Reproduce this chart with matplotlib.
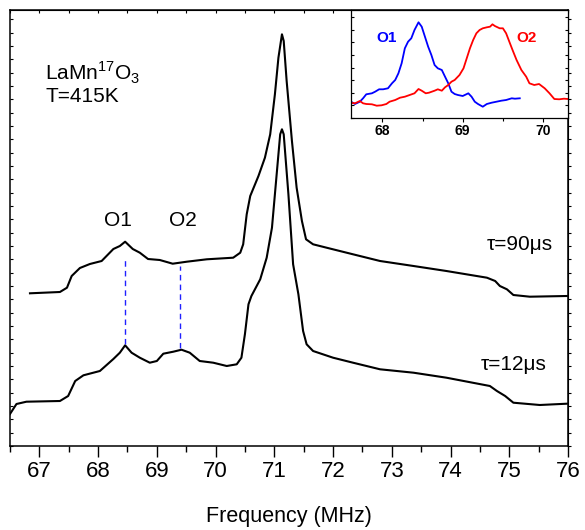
import numpy as np
import matplotlib
matplotlib.use("Agg")
import matplotlib.pyplot as plt
from matplotlib.ticker import MultipleLocator, NullFormatter

plt.rcParams['font.family'] = ['Liberation Sans', 'DejaVu Sans']
plt.rcParams['mathtext.fontset'] = 'custom'
plt.rcParams['mathtext.rm'] = 'Liberation Sans'

# upper spectrum, tau = 90 us (frequency in MHz, intensity in arb. units)
freq_90 = [66.84, 67.35, 67.47, 67.55, 67.69, 67.86, 68.06, 68.26, 68.37, 68.46,
           68.59, 68.71, 68.85, 69.05, 69.27, 69.51, 69.85, 70.30, 70.42, 70.47,
           70.53, 70.59, 70.73, 70.84, 70.93, 71.01, 71.07, 71.13, 71.16, 71.21,
           71.30, 71.38, 71.47, 71.54, 71.66, 71.89, 72.34, 72.80, 73.37, 73.93,
           74.62, 74.76, 74.84, 74.96, 75.07, 75.35, 75.98]
int_90 = [152.7, 154.0, 158.3, 170.0, 178.0, 182.0, 185.0, 197.0, 200.0, 204.3,
          197.0, 193.3, 187.0, 186.0, 182.3, 184.3, 186.7, 188.3, 193.3, 201.7,
          231.7, 250.0, 270.0, 288.3, 311.7, 351.7, 388.3, 411.7, 405.0, 365.0,
          305.0, 258.3, 225.0, 206.7, 201.7, 198.3, 191.7, 185.0, 180.0, 175.0,
          168.3, 165.0, 160.0, 156.7, 151.0, 149.3, 150.0]

# lower spectrum, tau = 12 us
freq_12 = [66.50, 66.61, 66.78, 67.35, 67.49, 67.61, 67.75, 68.03, 68.26, 68.37,
           68.46, 68.57, 68.71, 68.88, 69.00, 69.11, 69.28, 69.42, 69.56, 69.73,
           69.96, 70.19, 70.36, 70.44, 70.50, 70.56, 70.61, 70.76, 70.87, 70.96,
           71.04, 71.10, 71.13, 71.16, 71.24, 71.32, 71.41, 71.49, 71.55, 71.66,
           72.00, 72.34, 72.80, 73.37, 73.93, 74.67, 74.79, 74.93, 75.07, 75.52,
           75.98]
int_12 = [32.0, 42.0, 44.3, 45.0, 50.0, 65.0, 70.7, 75.0, 87.0, 93.3,
          100.7, 93.3, 88.3, 83.3, 85.0, 92.3, 94.3, 96.3, 93.3, 85.0,
          83.3, 80.0, 81.7, 88.3, 112.0, 141.7, 150.0, 166.7, 188.3, 218.3,
          271.7, 311.7, 316.7, 311.7, 251.7, 181.7, 151.7, 115.0, 101.7, 95.0,
          88.3, 83.3, 76.7, 73.3, 68.3, 60.0, 55.0, 50.0, 43.3, 41.0,
          42.3]

# inset: separated O1 and O2 lines
freq_o1 = [67.61, 67.66, 67.72, 67.76, 67.80, 67.87, 67.91, 67.96, 68.01, 68.07,
           68.12, 68.16, 68.20, 68.24, 68.28, 68.32, 68.36, 68.40, 68.45, 68.49,
           68.53, 68.57, 68.61, 68.65, 68.69, 68.74, 68.78, 68.82, 68.86, 68.90,
           68.94, 69.00, 69.07, 69.11, 69.15, 69.19, 69.25, 69.30, 69.36, 69.42,
           69.48, 69.54, 69.61, 69.65, 69.71]
int_o1 = [16.3, 14.0, 16.3, 19.7, 23.7, 24.7, 26.3, 28.7, 28.7, 29.7,
          34.7, 38.0, 44.7, 54.7, 69.7, 76.3, 79.7, 88.0, 95.7, 91.3,
          81.3, 71.3, 63.0, 53.0, 49.7, 48.0, 41.3, 34.7, 26.3, 24.0,
          23.0, 22.0, 24.7, 21.3, 16.3, 14.0, 11.3, 14.0, 15.3, 16.3,
          17.3, 18.0, 19.7, 19.3, 19.7]

freq_o2 = [67.61, 67.66, 67.72, 67.76, 67.80, 67.87, 67.93, 67.99, 68.05, 68.09,
           68.16, 68.22, 68.28, 68.34, 68.40, 68.45, 68.49, 68.54, 68.58, 68.65,
           68.69, 68.74, 68.78, 68.82, 68.86, 68.90, 68.96, 69.01, 69.05, 69.09,
           69.13, 69.17, 69.21, 69.25, 69.30, 69.34, 69.37, 69.40, 69.46, 69.50,
           69.54, 69.58, 69.62, 69.67, 69.73, 69.79, 69.83, 69.89, 69.95, 70.02,
           70.08, 70.14, 70.20, 70.26, 70.31]
int_o2 = [15.3, 14.7, 17.0, 14.7, 14.0, 13.7, 12.3, 12.7, 14.0, 16.3,
          18.0, 20.3, 21.3, 23.0, 24.7, 29.0, 27.3, 24.7, 25.3, 27.3,
          28.7, 27.3, 30.7, 33.0, 36.3, 38.0, 43.0, 49.7, 59.7, 69.7,
          78.0, 84.7, 88.0, 89.7, 90.7, 91.3, 93.7, 92.0, 89.7, 89.7,
          84.7, 76.3, 68.0, 58.0, 48.0, 41.3, 34.7, 33.0, 34.0, 29.7,
          24.7, 19.0, 18.7, 19.3, 19.0]

# peak markers (frequency, top, bottom)
marker_freq = [68.46, 69.39]
marker_top = [187.0, 180.0]
marker_bottom = [102.0, 98.0]

fig = plt.figure(figsize=(5.85, 5.3), dpi=100)
ax = fig.add_axes([10/585, 84/530, 558/585, 436/530])

ax.plot(freq_90, int_90, color='black', lw=1.5, solid_joinstyle='round')
ax.plot(freq_12, int_12, color='black', lw=1.5, solid_joinstyle='round')
ax.vlines(marker_freq, marker_bottom, marker_top, colors='#2020ff',
          linestyles=(0, (4, 3)), lw=1.0)

ax.set_xlim(66.5, 76)
ax.set_ylim(0, 436)
ax.xaxis.set_major_locator(MultipleLocator(1))
ax.xaxis.set_minor_locator(MultipleLocator(0.5))
ax.yaxis.set_major_locator(MultipleLocator(13.33))
ax.yaxis.set_major_formatter(NullFormatter())
ax.tick_params(axis='x', which='major', direction='out', length=8, width=1.0,
               labelsize=16, pad=3)
ax.tick_params(axis='x', which='minor', direction='out', length=4, width=1.0)
ax.tick_params(axis='y', which='major', direction='in', length=2, width=0.8)
for sp in ax.spines.values():
    sp.set_linewidth(1.1)

top = ax.secondary_xaxis('top')
top.xaxis.set_major_locator(MultipleLocator(1))
top.xaxis.set_minor_locator(MultipleLocator(0.5))
top.tick_params(which='both', direction='in', length=2, width=0.8, labeltop=False)
right = ax.secondary_yaxis('right')
right.yaxis.set_major_locator(MultipleLocator(13.33))
right.tick_params(direction='out', length=2.5, width=0.8, labelright=False)

ax.set_xlabel('Frequency (MHz)', fontsize=15.5, labelpad=17)

ax.text(67.10, 373, 'LaMn$^{17}$O$_3$', fontsize=15, ha='left', va='center')
ax.text(67.10, 349, 'T=415K', fontsize=15, ha='left', va='center')
ax.text(68.34, 226, 'O1', fontsize=15, ha='center', va='center')
ax.text(69.45, 226, 'O2', fontsize=15, ha='center', va='center')
ax.text(75.74, 202, '\u03c4=90\u03bcs', fontsize=15, ha='right', va='center')
ax.text(75.64, 82, '\u03c4=12\u03bcs', fontsize=15, ha='right', va='center')

# inset
ins = fig.add_axes([351/585, 412/530, 217/585, 108/530])
ins.plot(freq_o1, int_o1, color='#0000ff', lw=1.3)
ins.plot(freq_o2, int_o2, color='#ff0000', lw=1.3)
ins.set_xlim(67.61, 70.31)
ins.set_ylim(0, 108)
ins.xaxis.set_major_locator(MultipleLocator(1))
ins.xaxis.set_minor_locator(MultipleLocator(0.5))
ins.yaxis.set_major_locator(MultipleLocator(12.6))
ins.yaxis.set_major_formatter(NullFormatter())
ins.tick_params(axis='x', which='major', direction='out', length=3, width=0.8,
                labelsize=10, pad=1.5)
ins.tick_params(axis='x', which='minor', direction='out', length=2, width=0.8)
ins.tick_params(axis='y', direction='in', length=2, width=0.8, right=True)
for lab in ins.get_xticklabels():
    lab.set_fontweight('bold')
for sp in ins.spines.values():
    sp.set_linewidth(0.9)
ins.text(68.05, 80, 'O1', color='#0000ff', fontsize=11, fontweight='bold',
         ha='center', va='center')
ins.text(69.79, 80, 'O2', color='#ff0000', fontsize=11, fontweight='bold',
         ha='center', va='center')

fig.savefig('out.png', dpi=100)
